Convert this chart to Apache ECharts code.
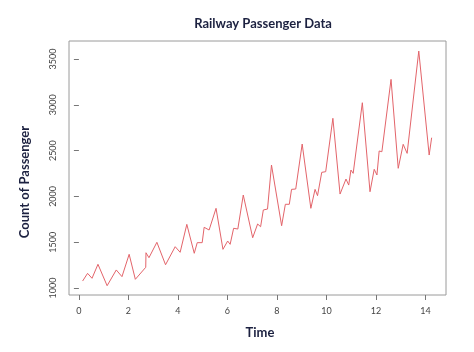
<!DOCTYPE html>
<html>
<head>
<meta charset="utf-8">
<script src="https://cdn.jsdelivr.net/npm/echarts@6/dist/echarts.min.js"></script>
<style>
  html, body { margin: 0; padding: 0; background: #fff; }
  #chart { width: 474px; height: 352px; }
</style>
</head>
<body>
<div id="chart"></div>
<script>
// time positions and passenger counts
var timeValues = [
  0.15, 0.35, 0.53, 0.77, 1.14, 1.51, 1.74, 2.03, 2.28, 2.70, 2.71, 2.83,
  3.15, 3.50, 3.89, 4.09, 4.36, 4.66, 4.78, 4.98, 5.06, 5.26, 5.54, 5.82,
  6.01, 6.11, 6.25, 6.42, 6.64, 7.02, 7.22, 7.34, 7.45, 7.62, 7.78, 8.19,
  8.34, 8.50, 8.59, 8.76, 9.02, 9.37, 9.54, 9.64, 9.81, 9.97, 10.26, 10.55,
  10.79, 10.90, 10.99, 11.08, 11.45, 11.76, 11.93, 12.04, 12.13, 12.24, 12.61, 12.90,
  13.10, 13.26, 13.73, 14.15, 14.25
];
var passengerCounts = [
  1076, 1160, 1106, 1259, 1025, 1197, 1124, 1368, 1095, 1226, 1385, 1331,
  1499, 1254, 1451, 1390, 1695, 1379, 1495, 1495, 1663, 1633, 1870, 1422,
  1513, 1477, 1652, 1644, 2015, 1549, 1699, 1669, 1852, 1862, 2343, 1680,
  1914, 1914, 2077, 2081, 2572, 1870, 2077, 2008, 2263, 2270, 2853, 2026,
  2190, 2124, 2288, 2252, 3023, 2051, 2296, 2234, 2496, 2488, 3278, 2307,
  2569, 2470, 3587, 2452, 2641
];
var xTicks = [0, 2, 4, 6, 8, 10, 12, 14];
var yTicks = [1000, 1500, 2000, 2500, 3000, 3500];

var seriesData = timeValues.map(function (t, i) { return [t, passengerCounts[i]]; });

var chart = echarts.init(document.getElementById('chart'), null, { renderer: 'canvas' });

var option = {
  backgroundColor: '#ffffff',
  animation: false,
  title: {
    text: 'Railway Passenger Data',
    left: 258,
    textAlign: 'center',
    top: 12,
    textStyle: {
      fontFamily: 'Lato',
      fontWeight: 'bold',
      fontSize: 13,
      color: '#1c2140'
    }
  },
  grid: {
    left: 69,
    right: 28,
    top: 41,
    bottom: 57,
    show: true,
    borderColor: '#9a9a9a',
    borderWidth: 1,
    backgroundColor: 'transparent'
  },
  xAxis: {
    type: 'value',
    min: -0.4,
    max: 14.83,
    name: 'Time',
    nameLocation: 'middle',
    nameGap: 31,
    nameTextStyle: {
      fontFamily: 'Lato',
      fontWeight: 'bold',
      fontSize: 13,
      color: '#1c2140',
      padding: [0, 0, 0, 5]
    },
    axisLine: { show: false },
    axisTick: {
      show: true,
      length: 5,
      customValues: xTicks,
      lineStyle: { color: '#777' }
    },
    axisLabel: {
      customValues: xTicks,
      margin: 12,
      fontFamily: 'Lato',
      fontSize: 9,
      color: '#444'
    },
    splitLine: { show: false }
  },
  yAxis: {
    type: 'value',
    min: 923.6,
    max: 3697,
    axisLine: { show: false },
    axisTick: {
      show: true,
      length: 5,
      customValues: yTicks,
      lineStyle: { color: '#777' }
    },
    axisLabel: {
      customValues: yTicks,
      rotate: 90,
      margin: 11,
      fontFamily: 'Lato',
      fontSize: 9,
      color: '#444',
      formatter: function (v) { return String(v); }
    },
    splitLine: { show: false }
  },
  graphic: [
    {
      type: 'text',
      x: 25,
      y: 182,
      rotation: Math.PI / 2,
      style: {
        text: 'Count of Passenger',
        fontFamily: 'Lato',
        fontWeight: 'bold',
        fontSize: 13,
        fill: '#1c2140',
        align: 'center',
        verticalAlign: 'middle'
      }
    }
  ],
  series: [
    {
      type: 'line',
      data: seriesData,
      showSymbol: false,
      lineStyle: { color: '#e3646a', width: 1 },
      itemStyle: { color: '#e3646a' }
    }
  ]
};

chart.setOption(option);
</script>
</body>
</html>
